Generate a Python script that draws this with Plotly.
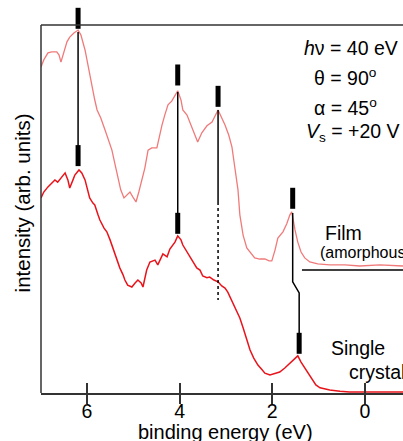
import plotly.graph_objects as go

# ---- data (binding energy in eV, intensity in arb. units) ----
film_E = [6.99, 6.93, 6.84, 6.76, 6.65, 6.60, 6.56, 6.50, 6.43, 6.37, 6.28, 6.19, 6.13, 6.04,
          5.98, 5.89, 5.83, 5.78, 5.70, 5.61, 5.53, 5.46, 5.40, 5.33, 5.27, 5.20, 5.14, 5.07,
          5.01, 4.94, 4.88, 4.81, 4.75, 4.68, 4.60, 4.49, 4.43, 4.38, 4.32, 4.25, 4.17, 4.10,
          4.04, 3.97, 3.93, 3.84, 3.78, 3.69, 3.61, 3.52, 3.41, 3.30, 3.24, 3.17, 3.09, 3.02,
          2.94, 2.87, 2.81, 2.74, 2.70, 2.63, 2.55, 2.46, 2.38, 2.27, 2.16, 2.07, 2.01, 1.94,
          1.88, 1.77, 1.69, 1.62, 1.58, 1.51, 1.45, 1.38, 1.30, 1.19, 1.02, 0.76, 0.43, 0.11,
          -0.32, -0.82]
film_I = [88.6, 90.5, 92.4, 92.7, 92.7, 91.8, 89.9, 92.7, 95.4, 96.7, 97.8, 98.6, 97.3, 93.2,
          89.1, 83.7, 79.6, 76.9, 74.7, 71.5, 68.8, 66.0, 62.5, 58.4, 55.2, 53.0, 53.8, 54.6,
          53.3, 51.9, 54.6, 57.9, 61.1, 66.0, 66.6, 66.6, 70.1, 72.8, 75.5, 78.3, 79.3, 80.9,
          82.1, 79.6, 76.9, 75.5, 73.6, 70.9, 68.2, 70.7, 72.6, 73.6, 75.3, 76.9, 74.7, 72.8,
          70.1, 66.8, 61.4, 55.2, 48.4, 42.9, 39.4, 37.8, 36.7, 36.4, 36.4, 35.9, 35.9, 38.9,
          42.1, 43.8, 45.9, 48.4, 49.2, 44.3, 41.0, 38.3, 36.7, 35.6, 35.1, 34.8, 34.8, 34.5,
          34.8, 34.5]

crystal_E = [6.99, 6.93, 6.84, 6.76, 6.69, 6.63, 6.54, 6.47, 6.41, 6.37, 6.30, 6.26, 6.17, 6.11,
             6.04, 5.98, 5.94, 5.87, 5.83, 5.76, 5.72, 5.63, 5.57, 5.50, 5.44, 5.35, 5.29, 5.22,
             5.18, 5.12, 5.03, 4.96, 4.90, 4.83, 4.79, 4.71, 4.64, 4.53, 4.47, 4.36, 4.27, 4.21,
             4.10, 4.04, 3.97, 3.93, 3.82, 3.71, 3.63, 3.56, 3.50, 3.41, 3.35, 3.26, 3.17, 3.09,
             3.02, 2.96, 2.91, 2.85, 2.79, 2.70, 2.63, 2.55, 2.48, 2.40, 2.31, 2.22, 2.16, 2.05,
             1.94, 1.84, 1.73, 1.62, 1.53, 1.45, 1.38, 1.30, 1.21, 1.15, 1.06, 0.97, 0.76, 0.54,
             0.33, 0.00, -0.43, -0.82]
crystal_I = [53.0, 54.6, 56.0, 57.1, 57.9, 57.3, 58.7, 59.8, 57.9, 55.7, 57.9, 59.2, 60.6, 59.8,
             57.9, 55.2, 53.0, 51.6, 51.1, 48.4, 47.0, 44.8, 43.8, 41.6, 39.4, 36.7, 34.0, 32.1,
             30.7, 29.3, 28.8, 29.9, 30.7, 29.9, 28.8, 33.4, 35.6, 36.1, 34.8, 37.8, 37.0, 39.1,
             41.0, 42.7, 41.6, 40.2, 38.0, 35.6, 34.0, 33.4, 31.8, 31.3, 31.5, 30.7, 30.2, 29.1,
             28.5, 27.4, 26.1, 24.5, 22.8, 20.4, 17.7, 14.4, 11.7, 9.5, 7.6, 6.3, 5.4, 4.9,
             5.4, 5.7, 6.8, 8.2, 9.2, 10.1, 8.4, 6.8, 5.2, 3.8, 2.2, 1.4, 0.8, 0.5,
             0.3, 0.3, 0.3, 0.3]

# peak marks
film_mark_E = [6.19, 4.04, 3.17, 1.56]
film_mark_I = [101.8, 86.4, 80.6, 52.9]
crystal_mark_E = [6.19, 4.04, 1.42]
crystal_mark_I = [64.5, 46.1, 13.5]

# connector lines between film and crystal peaks
conn1_E = [6.19, 6.19]
conn1_I = [98.1, 64.5]
conn2_E = [4.04, 4.04]
conn2_I = [81.8, 46.1]
conn3_E = [3.17, 3.17]
conn3_I = [76.9, 51.9]
conn3_dash_E = [3.17, 3.17]
conn3_dash_I = [51.9, 25.3]
conn4_E = [1.56, 1.56, 1.42, 1.42]
conn4_I = [48.9, 30.2, 27.2, 13.5]

# film zero line
film_base_E = [1.36, -1.0]
film_base_I = [33.4, 33.4]

x_ticks = [6, 4, 2, 0]
x_range = [6.99, -0.82]
y_frame_top = 100.0
y_range = [0, 104.6]

FONT = "Liberation Sans, Arial, sans-serif"
AX = "#333333"

fig = go.Figure()
fig.add_trace(go.Scatter(x=film_E, y=film_I, mode="lines",
                         line=dict(color="#f07a7a", width=1.3), hoverinfo="skip"))
fig.add_trace(go.Scatter(x=crystal_E, y=crystal_I, mode="lines",
                         line=dict(color="#e8141c", width=1.5), hoverinfo="skip"))

for ex, iy, dash in [(conn1_E, conn1_I, "solid"), (conn2_E, conn2_I, "solid"),
                     (conn3_E, conn3_I, "solid"), (conn3_dash_E, conn3_dash_I, "3px,3px"),
                     (conn4_E, conn4_I, "solid")]:
    fig.add_trace(go.Scatter(x=ex, y=iy, mode="lines",
                             line=dict(color="black", width=1.5, dash=dash), hoverinfo="skip"))

fig.add_trace(go.Scatter(x=film_base_E, y=film_base_I, mode="lines",
                         line=dict(color="black", width=1.5), hoverinfo="skip"))

marker_style = dict(symbol="line-ns", size=15, line=dict(color="black", width=5))
fig.add_trace(go.Scatter(x=film_mark_E, y=film_mark_I, mode="markers", marker=marker_style,
                         cliponaxis=False, hoverinfo="skip"))
fig.add_trace(go.Scatter(x=crystal_mark_E, y=crystal_mark_I, mode="markers", marker=marker_style,
                         cliponaxis=False, hoverinfo="skip"))

# invisible trace for the outside-tick overlay axis
fig.add_trace(go.Scatter(x=film_base_E, y=film_base_I, mode="lines", xaxis="x2",
                         line=dict(color="rgba(0,0,0,0)", width=0), hoverinfo="skip"))

# frame: top and left lines (plot area is taller than the frame so that the top mark fits)
shapes = [
    dict(type="line", xref="paper", yref="y", x0=0, x1=1, y0=y_frame_top, y1=y_frame_top,
         line=dict(color=AX, width=1.5)),
    dict(type="line", xref="paper", yref="y", x0=0, x1=0, y0=y_range[0], y1=y_frame_top,
         line=dict(color=AX, width=1.5)),
]

ann = []
def add_text(text, x, y, size=19.5, xanchor="center", angle=0, yref="y"):
    ann.append(dict(text=text, x=x, y=y, xref="paper", yref=yref, showarrow=False,
                    xanchor=xanchor, yanchor="middle", textangle=angle,
                    font=dict(size=size, color="black", family=FONT)))

add_text("<i>h</i>ν = 40 eV", 0.856, 93.75)
add_text("θ = 90<sup>o</sup>", 0.840, 85.9)
add_text("α = 45<sup>o</sup>", 0.841, 77.7)
add_text("<i>V</i><sub>s</sub> = +20 V", 0.863, 70.65)
add_text("Film", 0.836, 43.5)
add_text("(amorphous)", 0.765, 38.3, size=16, xanchor="left")
add_text("Single", 0.877, 12.2)
add_text("crystal", 0.845, 5.7, xanchor="left")
# axis titles
add_text("intensity (arb. units)", -0.0525, 0.495, size=20.5, angle=-90, yref="paper")
add_text("binding energy (eV)", 0.511, -0.101, size=20, yref="paper")

fig.update_layout(
    width=403, height=441,
    margin=dict(l=41, r=0, t=8, b=48),
    paper_bgcolor="white", plot_bgcolor="white",
    showlegend=False,
    font=dict(family=FONT, size=19.5, color="black"),
    annotations=ann,
    shapes=shapes,
    xaxis=dict(range=x_range, tickvals=x_ticks, ticktext=[str(t) for t in x_ticks],
               ticks="inside", ticklen=10, tickwidth=1.5, tickcolor=AX,
               showline=True, linecolor=AX, linewidth=1.5, mirror=False,
               showgrid=False, zeroline=False, ticklabelstandoff=0,
               tickfont=dict(size=19.5, family=FONT, color="black")),
    xaxis2=dict(range=x_range, overlaying="x", anchor="y", side="bottom",
                tickvals=x_ticks, ticks="outside", ticklen=10, tickwidth=1.5, tickcolor=AX,
                showticklabels=False, showline=False, showgrid=False, zeroline=False),
    yaxis=dict(range=y_range, showline=False, ticks="", showticklabels=False,
               showgrid=False, zeroline=False),
)

fig.write_html("out.html", config={"displayModeBar": False},
               post_script="document.body.style.margin='0';document.body.style.overflow='hidden';")
